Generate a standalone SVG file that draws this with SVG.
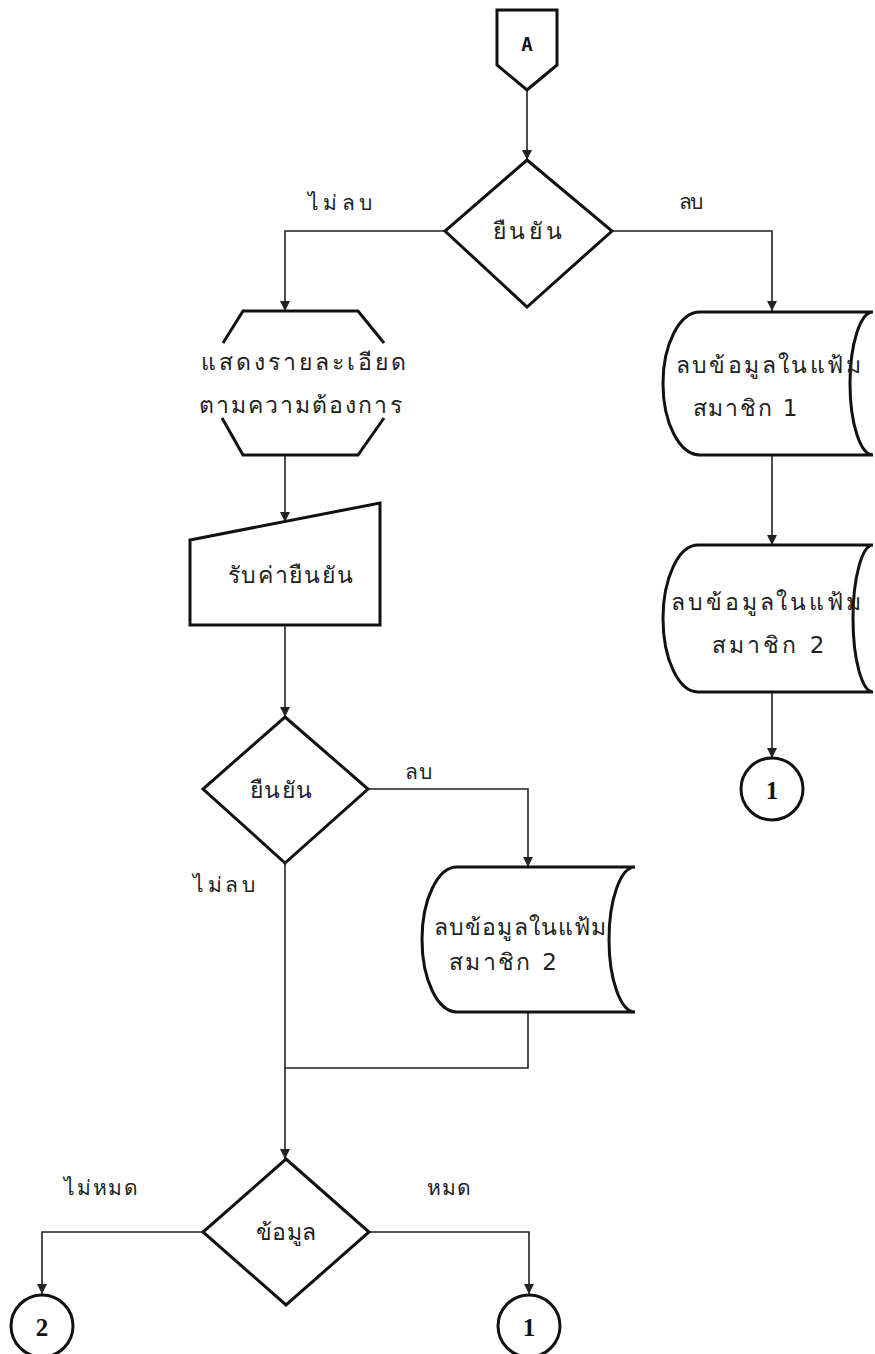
<svg xmlns="http://www.w3.org/2000/svg" width="875" height="1354" viewBox="0 0 875 1354">
<style>
.bg{fill:#ffffff}
.shape{fill:none;stroke:#111;stroke-width:3;stroke-linejoin:miter}
.conn{fill:none;stroke:#222;stroke-width:1.6}
.t{font-family:"DejaVu Sans","Noto Sans",sans-serif;font-size:23px;fill:#222;text-anchor:middle;dominant-baseline:central}
.lbl{font-family:"DejaVu Sans","Noto Sans",sans-serif;font-size:21px;fill:#222;text-anchor:middle;dominant-baseline:central}
.num{font-family:"Liberation Serif",serif;font-weight:bold;font-size:25px;fill:#111;text-anchor:middle;dominant-baseline:central}
</style>
<defs>
<marker id="arr" markerUnits="userSpaceOnUse" markerWidth="10" markerHeight="12" refX="10" refY="5" orient="auto">
<path d="M0,0 L10,5 L0,10 Z" fill="#222"/>
</marker>
</defs>
<rect class="bg" x="0" y="0" width="875" height="1354"/>
<g id="connectors">
<path class="conn" d="M527,90 V160" marker-end="url(#arr)"/>
<path class="conn" d="M445,231 H285 V311" marker-end="url(#arr)"/>
<path class="conn" d="M612,231 H772 V311" marker-end="url(#arr)"/>
<path class="conn" d="M285,455 V522" marker-end="url(#arr)"/>
<path class="conn" d="M285,625 V717" marker-end="url(#arr)"/>
<path class="conn" d="M368,789 H528 V867" marker-end="url(#arr)"/>
<path class="conn" d="M285,863 V1159" marker-end="url(#arr)"/>
<path class="conn" d="M528,1012 V1068 H285"/>
<path class="conn" d="M203,1232 H42 V1294" marker-end="url(#arr)"/>
<path class="conn" d="M369,1232 H529 V1294" marker-end="url(#arr)"/>
<path class="conn" d="M772,455 V545" marker-end="url(#arr)"/>
<path class="conn" d="M772,692 V758" marker-end="url(#arr)"/>
<text class="lbl" x="340" y="203" textLength="64" lengthAdjust="spacing">ไม่ลบ</text>
<text class="lbl" x="691" y="202" textLength="24" lengthAdjust="spacing">ลบ</text>
<text class="lbl" x="418" y="772" textLength="27" lengthAdjust="spacing">ลบ</text>
<text class="lbl" x="224" y="885" textLength="62" lengthAdjust="spacing">ไม่ลบ</text>
<text class="lbl" x="101" y="1188" textLength="74" lengthAdjust="spacing">ไม่หมด</text>
<text class="lbl" x="449" y="1188" textLength="44" lengthAdjust="spacing">หมด</text>
</g>
<g id="offpage-A">
<polygon class="shape" points="497,10 557,10 557,65 527,90 497,65"/>
<text class="num" x="527" y="44" style="font-family:'DejaVu Sans Mono',monospace;font-size:19px">A</text>
</g>
<g id="decision-1">
<polygon class="shape" points="527,160 612,231 527,307 445,231"/>
<text class="t" x="527" y="231" textLength="69" lengthAdjust="spacing">ยืนยัน</text>
</g>
<g id="display">
<path class="shape" d="M223,343 L243,311 L358,311 L384,343"/>
<path class="shape" d="M222,418 L243,455 L358,455 L384,418"/>
<text class="t" x="303" y="362" textLength="205" lengthAdjust="spacing">แสดงรายละเอียด</text>
<text class="t" x="300" y="405" textLength="203" lengthAdjust="spacing">ตามความต้องการ</text>
</g>
<g id="manual-input">
<polygon class="shape" points="190,540 380,503 380,625 190,625"/>
<text class="t" x="290" y="575" textLength="125" lengthAdjust="spacing">รับค่ายืนยัน</text>
</g>
<g id="decision-2">
<polygon class="shape" points="285,717 368,789 285,863 203,789"/>
<text class="t" x="281" y="790" textLength="62" lengthAdjust="spacing">ยืนยัน</text>
</g>
<g id="stored-1">
<path class="shape" d="M700,312 H873 A23,71.5 0 0 0 873,455 H700 A37,71.5 0 0 1 700,312 Z"/>
<text class="t" x="768" y="365" textLength="185" lengthAdjust="spacing">ลบข้อมูลในแฟ้ม</text>
<text class="t" x="745" y="408" textLength="105" lengthAdjust="spacing">สมาชิก 1</text>
</g>
<g id="stored-2">
<path class="shape" d="M698,545 H873 A20,73.5 0 0 0 873,692 H698 A35,73.5 0 0 1 698,545 Z"/>
<text class="t" x="766" y="602" textLength="190" lengthAdjust="spacing">ลบข้อมูลในแฟ้ม</text>
<text class="t" x="768" y="645" textLength="113" lengthAdjust="spacing">สมาชิก 2</text>
</g>
<g id="stored-3">
<path class="shape" d="M457,867 H635 A26,72.5 0 0 0 635,1012 H457 A35,72.5 0 0 1 457,867 Z"/>
<text class="t" x="520" y="927" textLength="172" lengthAdjust="spacing">ลบข้อมูลในแฟ้ม</text>
<text class="t" x="503" y="962" textLength="108" lengthAdjust="spacing">สมาชิก 2</text>
</g>
<g id="connector-1a">
<circle class="shape" cx="772" cy="789" r="31"/>
<text class="num" x="772" y="790">1</text>
</g>
<g id="decision-3">
<polygon class="shape" points="286,1159 369,1232 286,1305 203,1232"/>
<text class="t" x="286" y="1232" textLength="60" lengthAdjust="spacing">ข้อมูล</text>
</g>
<g id="connector-2">
<circle class="shape" cx="42" cy="1326" r="31"/>
<text class="num" x="42" y="1327">2</text>
</g>
<g id="connector-1b">
<circle class="shape" cx="529" cy="1326" r="31"/>
<text class="num" x="529" y="1327">1</text>
</g>
</svg>
